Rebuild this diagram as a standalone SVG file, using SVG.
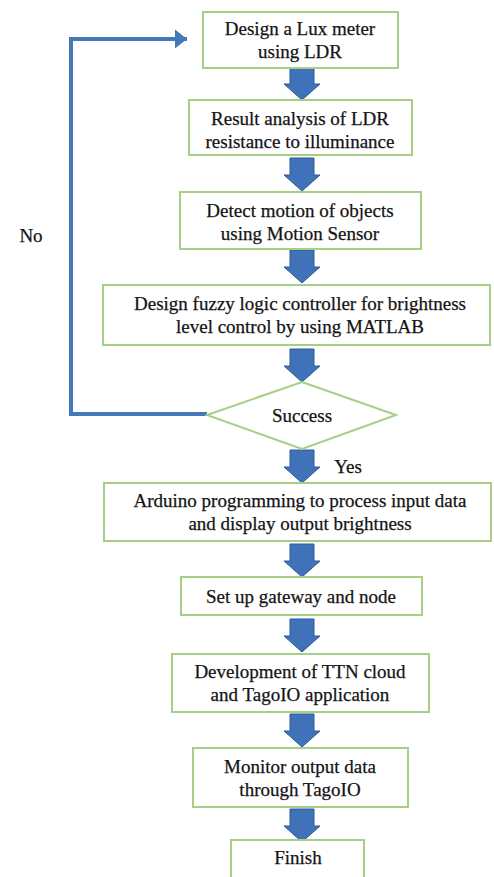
<svg xmlns="http://www.w3.org/2000/svg" width="494" height="877" viewBox="0 0 494 877" font-family="'Liberation Serif', 'DejaVu Serif', serif">
  <style>
    .box { fill: #ffffff; stroke: #a6cf86; stroke-width: 2; }
    .lbl { font-size: 19px; fill: #141414; stroke: #141414; stroke-width: 0.25; text-anchor: middle; }
    .down { fill: #3f72b8; stroke: #2e5a96; stroke-width: 1; }
    .loop { fill: none; stroke: #4577bb; stroke-width: 4; }
  </style>
  <defs>
    <marker id="head" markerWidth="6" markerHeight="6" refX="3" refY="3" orient="auto" markerUnits="strokeWidth">
      <path d="M0,0.6 L3,3 L0,5.4 Z" fill="#4577bb"/>
    </marker>
    <!-- block arrow pointing down, tip at (0,0) -->
    <path id="blk" d="M-12,-33 L12,-33 L12,-16 L18,-16 L0,0 L-18,-16 L-12,-16 Z"/>
  </defs>
  <rect width="494" height="877" fill="#ffffff"/>

  <g id="connectors">
    <use href="#blk" class="down" x="302" y="100"/>
    <use href="#blk" class="down" x="302" y="191"/>
    <use href="#blk" class="down" x="302" y="283"/>
    <use href="#blk" class="down" x="302" y="382"/>
    <use href="#blk" class="down" x="302" y="483"/>
    <use href="#blk" class="down" x="302" y="577"/>
    <use href="#blk" class="down" x="302" y="652"/>
    <use href="#blk" class="down" x="302" y="747"/>
    <use href="#blk" class="down" x="302" y="842"/>
    <polyline class="loop" points="207,414 71,414 71,39 187,39" marker-end="url(#head)"/>
    <text class="lbl" x="31" y="242" font-family="Liberation Serif">No</text>
    <text class="lbl" x="348" y="473" font-family="Liberation Serif">Yes</text>
  </g>

  <g id="n1" font-family="Liberation Serif">
    <rect class="box" x="203" y="12" width="195" height="56"/>
    <text class="lbl" x="300" y="35">Design a Lux meter</text>
    <text class="lbl" x="300" y="58">using LDR</text>
  </g>
  <g id="n2" font-family="Liberation Serif">
    <rect class="box" x="189" y="100" width="223" height="55"/>
    <text class="lbl" x="300" y="125">Result analysis of LDR</text>
    <text class="lbl" x="300" y="148">resistance to illuminance</text>
  </g>
  <g id="n3" font-family="Liberation Serif">
    <rect class="box" x="180" y="192" width="241" height="57"/>
    <text class="lbl" x="300" y="217">Detect motion of objects</text>
    <text class="lbl" x="300" y="240">using Motion Sensor</text>
  </g>
  <g id="n4" font-family="Liberation Serif">
    <rect class="box" x="103" y="285" width="387" height="60"/>
    <text class="lbl" x="300" y="310">Design fuzzy logic controller for brightness</text>
    <text class="lbl" x="300" y="333">level control by using MATLAB</text>
  </g>
  <g id="n5" font-family="Liberation Serif">
    <polygon class="box" points="302,382 396,415 302,449 207,415"/>
    <text class="lbl" x="302" y="422">Success</text>
  </g>
  <g id="n6" font-family="Liberation Serif">
    <rect class="box" x="104" y="483" width="387" height="58"/>
    <text class="lbl" x="300" y="507">Arduino programming to process input data</text>
    <text class="lbl" x="300" y="530">and display output brightness</text>
  </g>
  <g id="n7" font-family="Liberation Serif">
    <rect class="box" x="181" y="577" width="241" height="38"/>
    <text class="lbl" x="301" y="603">Set up gateway and node</text>
  </g>
  <g id="n8" font-family="Liberation Serif">
    <rect class="box" x="172" y="654" width="257" height="58"/>
    <text class="lbl" x="300" y="678">Development of TTN cloud</text>
    <text class="lbl" x="300" y="701">and TagoIO application</text>
  </g>
  <g id="n9" font-family="Liberation Serif">
    <rect class="box" x="193" y="748" width="215" height="59"/>
    <text class="lbl" x="300" y="773">Monitor output data</text>
    <text class="lbl" x="300" y="796">through TagoIO</text>
  </g>
  <g id="n10" font-family="Liberation Serif">
    <rect class="box" x="231" y="840" width="133" height="45"/>
    <text class="lbl" x="298" y="864">Finish</text>
  </g>
</svg>
